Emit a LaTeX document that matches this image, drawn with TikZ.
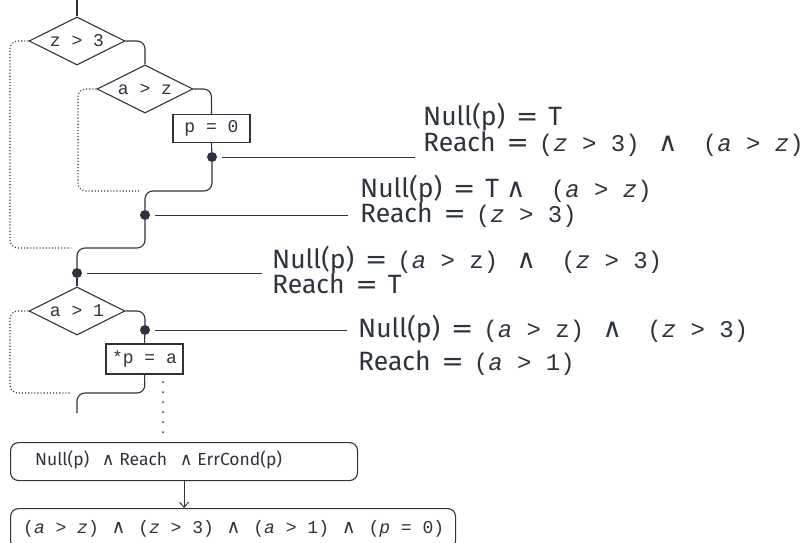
\documentclass[tikz,border=0pt]{standalone}
\usepackage{fontspec}
\setmainfont{Fira Sans}
\newfontfamily\monof{Liberation Mono}
\newfontfamily\symf{DejaVu Sans}
\usetikzlibrary{shapes.geometric,arrows.meta}
\definecolor{ink}{RGB}{45,52,62}

\newcommand\annf{\fontsize{26.5}{26.5}\selectfont}
\newcommand\annm{\monof\fontsize{24}{24}\selectfont}
\newcommand\boxm{\monof\fontsize{18}{18}\selectfont}
% logical and, equals sign, variables in mono italic
\newcommand\andop{{\symf ∧}}
\newcommand\eqop{\hspace{4pt}\ {\symf =}\hspace{3pt}\ }
\newcommand\sepop{{\annm\ }\hspace{4pt}\andop\hspace{4pt}\ {\annm\ }}
\newcommand\mv[1]{\textit{#1}}
\newcommand\boxand{\hspace{2pt}{\fontsize{19}{19}\selectfont\andop}\hspace{2pt}}

\tikzset{
  flow/.style={draw=ink, line width=1.1pt, rounded corners=8pt},
  alt/.style={draw=ink, line width=1.1pt, dotted, rounded corners=8pt},
  test/.style={diamond, draw=ink, line width=1.1pt, aspect=2,
    minimum width=96pt, minimum height=48pt, inner sep=0pt, text=ink,
    font=\monof\fontsize{18}{18}\selectfont},
  stmt/.style={rectangle, draw=ink, line width=1.1pt, minimum width=77pt,
    minimum height=28pt, inner sep=0pt, text=ink,
    font=\monof\fontsize{18}{18}\selectfont},
  junc/.style={circle, fill=ink, minimum size=10pt, inner sep=0pt},
  note/.style={anchor=base west, inner sep=0pt, text=ink, font=\annf},
  tap/.style={draw=ink, line width=1pt, shorten <=5pt},
  cond/.style={rectangle, rounded corners=8pt, draw=ink, line width=1.1pt,
    anchor=north west, inner sep=0pt},
  condtext/.style={anchor=base west, inner sep=0pt, text=ink},
}

\begin{document}
\begin{tikzpicture}[x=1pt,y=-1pt]
\useasboundingbox (0,0) rectangle (806,543);

% tests, statements and junction points
\node[test] (d1) at (77,41) {z > 3};
\node[test] (d2) at (145,89) {a > z};
\node[stmt] (b1) at (211.5,128.5) {p = 0};
\node[junc] (n1) at (212,157) {};
\node[junc] (n2) at (145,215) {};
\node[junc] (n3) at (77,273) {};
\node[test] (d3) at (77,311) {a > 1};
\node[junc] (n4) at (145,330) {};
\node[stmt, minimum height=30pt] (b2) at (144.5,359) {*p = a};

% bends and merge points
\coordinate (top) at (77,-1);
\coordinate (k1) at (212,191);
\coordinate (m1) at (145,191);
\coordinate (l1) at (78,191);
\coordinate (e1) at (139,191);
\coordinate (k2) at (145,248);
\coordinate (m2) at (77,248);
\coordinate (l2) at (10,248);
\coordinate (e2) at (71,248);
\coordinate (k3) at (145,393);
\coordinate (m3) at (77,393);
\coordinate (l3) at (10,393);
\coordinate (e3) at (71,393);
\coordinate (bot) at (77,413);

% control flow
\draw[flow] (top) -- (d1.north);
\draw[flow] (d1.east) -| (d2.north);
\draw[flow] (d2.east) -| (b1.north);
\draw[flow] (b1.south) -- (n1);
\draw[flow] (n1) -- (k1) -- (m1) -- (n2);
\draw[alt] (d2.west) -| (l1) -- (e1);
\draw[flow] (n2) -- (k2) -- (m2) -- (n3);
\draw[alt] (d1.west) -| (l2) -- (e2);
\draw[flow] (n3) -- (d3.north);
\draw[flow] (d3.east) -| (n4);
\draw[flow] (n4) -- (b2.north);
\draw[flow] (b2.south) -- (k3) -- (m3) -- (bot);
\draw[alt] (d3.west) -| (l3) -- (e3);

% annotation leaders
\coordinate (t1) at (415,157);
\coordinate (t2) at (348,215);
\coordinate (t3) at (262,273);
\coordinate (t4) at (347,330);
\draw[tap] (n1) -- (t1);
\draw[tap] (n2) -- (t2);
\draw[tap] (n3) -- (t3);
\draw[tap] (n4) -- (t4);

% annotations
\node[note] (a1n) at (423,125) {Null(p)\eqop T};
\node[note] (a1r) at (423,151) {Reach\eqop{\annm (\mv{z} > 3)}\sepop{\annm (\mv{a} > \mv{z})}};
\node[note] (a2n) at (360,197) {Null(p)\eqop T\ \andop\hspace{4pt}\ {\annm\ (\mv{a} > \mv{z})}};
\node[note] (a2r) at (360,222) {Reach\eqop{\annm (\mv{z} > 3)}};
\node[note] (a3n) at (272,268) {Null(p)\eqop{\annm (\mv{a} > z)}\sepop{\annm (\mv{z} > 3)}};
\node[note] (a3r) at (272,293) {Reach\eqop T};
\node[note] (a4n) at (358,337) {Null(p)\eqop{\annm (\mv{a} > z)}\sepop{\annm (\mv{z} > 3)}};
\node[note] (a4r) at (358,370) {Reach\eqop{\annm (\mv{a} > 1)}};

% spaced dots down to the error condition
\coordinate (s1) at (163,382);
\coordinate (s2) at (163,433);
\draw[ink, line width=2pt, line cap=round, dash pattern=on 0pt off 10pt] (s1) -- (s2);

% error condition and resulting formula
\node[cond, minimum width=347pt, minimum height=38pt] (c1) at (10,442) {};
\node[condtext, font=\fontsize{17.5}{17.5}\selectfont] (c1t) at (35,465)
  {Null(p)\hspace{8pt} \andop{} Reach\hspace{8pt} \andop{} ErrCond(p)};
\node[cond, minimum width=445pt, minimum height=40pt] (c2) at (10,508) {};
\node[condtext] (c2t) at (23,533)
  {{\boxm (\mv{a} > \mv{z}) }\boxand{\boxm{} (\mv{z} > 3) }\boxand{\boxm{} (\mv{a} > 1) }\boxand{\boxm{} (\mv{p} = 0)}};
\draw[ink, line width=1pt, -{Straight Barb[length=5pt,width=9pt]}] (c1.south) -- (c1.south |- c2.north);
\end{tikzpicture}
\end{document}
